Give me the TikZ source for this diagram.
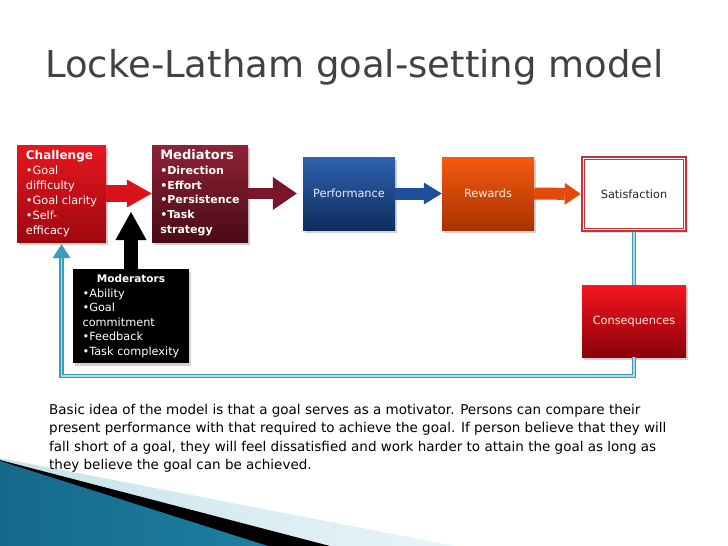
\documentclass[tikz,border=0pt]{standalone}
\usepackage{fontspec}
\setmainfont{DejaVu Sans}
\usetikzlibrary{arrows.meta,shadows}
\definecolor{titlegray}{HTML}{424242}
\definecolor{chaltop}{HTML}{E8161E}
\definecolor{chalbot}{HTML}{9E0810}
\definecolor{medtop}{HTML}{8E2236}
\definecolor{medbot}{HTML}{4A0B16}
\definecolor{perftop}{HTML}{2F63AD}
\definecolor{perfbot}{HTML}{0D2C5E}
\definecolor{rewtop}{HTML}{F65A10}
\definecolor{rewbot}{HTML}{A83200}
\definecolor{constop}{HTML}{F5161F}
\definecolor{consbot}{HTML}{8C0008}
\definecolor{satred}{HTML}{C8303A}
\definecolor{arrred}{HTML}{DC121A}
\definecolor{arrmaroon}{HTML}{7A1629}
\definecolor{arrblue}{HTML}{1F4F9A}
\definecolor{arrorange}{HTML}{E44A0C}
\definecolor{loopteal}{HTML}{3A9EBB}
\definecolor{loophi}{HTML}{A8DCEA}
\definecolor{wtealdark}{HTML}{16698A}
\definecolor{wteallight}{HTML}{55B4D4}
\definecolor{wtealmid}{HTML}{1D7FA2}
\definecolor{wpale}{HTML}{C6E3EC}
\definecolor{wpale2}{HTML}{E9F4F8}
\tikzset{
  blk/.style={inner sep=0pt, text=white,
    drop shadow={shadow xshift=1.5pt, shadow yshift=-2.5pt, opacity=0.35}},
  small/.style={font=\fontsize{11.3}{15}\selectfont},
  blockarrow/.style={line width=#1},
  loopline/.style={draw=loopteal, line width=4.5pt},
  loophigh/.style={draw=loophi, line width=1.2pt},
}
\begin{document}
\begin{tikzpicture}[x=1pt,y=-1pt]
\useasboundingbox (0,0) rectangle (728,546);
\fill[white] (0,0) rectangle (728,546);

% bottom-left decoration
\shade[left color=wpale, right color=wpale2] (0,458) -- (455,546) -- (0,546) -- cycle;
\fill[black] (0,460) -- (330,546) -- (0,546) -- cycle;
\shade[left color=wtealdark, middle color=wteallight, right color=wtealmid] (0,461) -- (268,546) -- (0,546) -- cycle;

% title
\node[anchor=base west, inner sep=0pt, text=titlegray,
      font=\fontsize{37}{44}\selectfont] (title) at (45,77) {Locke-Latham goal-setting model};

% boxes
\node[blk, small, minimum width=89pt, minimum height=97pt,
      top color=chaltop, bottom color=chalbot] (chal) at (61.5,193.5)
  {\begin{tabular}{@{}l@{}}{\fontsize{12}{15}\selectfont\bfseries Challenge}\\ •Goal\\ difficulty\\ •Goal clarity\\ •Self-\\ efficacy\end{tabular}};

\node[blk, font=\fontsize{11}{14.8}\selectfont\bfseries, minimum width=96pt, minimum height=97pt,
      top color=medtop, bottom color=medbot] (med) at (200,193.5)
  {\begin{tabular}{@{}l@{}}{\fontsize{13}{14.8}\selectfont Mediators}\\ •Direction\\ •Effort\\ •Persistence\\ •Task\\ strategy\end{tabular}};

\node[blk, small, minimum width=92pt, minimum height=73pt,
      top color=perftop, bottom color=perfbot, text=white!92!blue] (perf) at (349,193.5) {Performance};

\node[blk, small, minimum width=92pt, minimum height=73pt,
      top color=rewtop, bottom color=rewbot, text=white!90!orange] (rew) at (488,193.5) {Rewards};

\node[small, draw=satred, line width=2.5pt, fill=white, minimum width=104pt, minimum height=74pt,
      drop shadow={shadow xshift=1.5pt, shadow yshift=-2pt, opacity=0.25}, text=black!85] (sat) at (634,194) {Satisfaction};
\draw[satred, line width=0.8pt] ([shift={(3.6pt,-3.6pt)}]sat.north west) rectangle ([shift={(-3.6pt,3.6pt)}]sat.south east);

\node[blk, small, minimum width=104pt, minimum height=72pt,
      top color=constop, bottom color=consbot, text=white!92!red] (cons) at (634,321) {Consequences};

\node[blk, font=\fontsize{11.3}{14.5}\selectfont, minimum width=116pt, minimum height=94pt,
      fill=black] (mod) at (131,316)
  {\begin{tabular}{@{}l@{}}\multicolumn{1}{@{}c@{}}{\fontsize{10.5}{14.5}\selectfont\bfseries Moderators}\\ •Ability\\ •Goal\\ commitment\\ •Feedback\\ •Task complexity\end{tabular}};

% block arrows
\draw[blockarrow=17pt, arrred, -{Triangle[width=28pt,length=25pt,line width=0pt]}] (chal.east) -- (med.west);
\draw[blockarrow=11pt, arrmaroon, shorten >=6pt, -{Triangle[width=33pt,length=24pt,line width=0pt]}] (med.east) -- (perf.west);
\draw[blockarrow=12pt, arrblue, -{Triangle[width=22pt,length=18pt,line width=0pt]}] (perf.east) -- (rew.west);
\draw[blockarrow=12pt, arrorange, -{Triangle[width=22pt,length=16pt,line width=0pt]}] (rew.east) -- (sat.west);

\coordinate (modtip) at (131,212);
\draw[blockarrow=14pt, black, -{Triangle[width=31pt,length=28pt,line width=0pt]}] (mod.north) -- (modtip);

% feedback loop
\coordinate (loopR) at (634,376);
\coordinate (loopL) at (61.5,376);
\draw[loopline] (sat.south) -- (cons.north);
\draw[loophigh] (sat.south) -- (cons.north);
\draw[loopline, shorten >=2pt, -{Triangle[width=18pt,length=14pt,line width=0pt]}] (cons.south) -- (loopR) -- (loopL) -- (chal.south);
\draw[loophigh] (cons.south) -- (loopR) -- (loopL) -- ([yshift=-16pt]chal.south);

% explanatory text
\node[anchor=north west, inner sep=0pt, align=left, text=black,
      font=\fontsize{13.5}{18.5}\selectfont] (para) at (49,404)
  {Basic idea of the model is that a goal serves as a motivator. Persons can compare their\\
   present performance with that required to achieve the goal. If person believe that they will\\
   fall short of a goal, they will feel dissatisfied and work harder to attain the goal as long as\\
   they believe the goal can be achieved.};
\end{tikzpicture}
\end{document}
